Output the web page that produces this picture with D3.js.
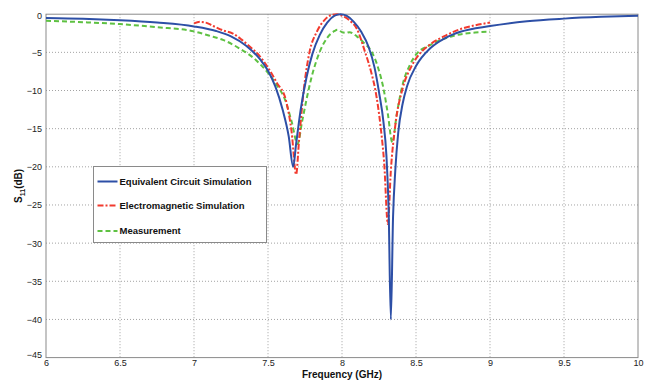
<!DOCTYPE html>
<html>
<head>
<meta charset="utf-8">
<script src="https://cdn.jsdelivr.net/npm/d3@7"></script>
<style>
  html, body { margin: 0; padding: 0; background: #fff; }
  svg { display: block; font-family: "Liberation Sans", Arial, sans-serif; }
</style>
</head>
<body>
<svg id="chart" width="651" height="381"></svg>
<script>
// Return loss S11 (dB) versus frequency (GHz)
const xTicks = [6, 6.5, 7, 7.5, 8, 8.5, 9, 9.5, 10];
const yTicks = [0, -5, -10, -15, -20, -25, -30, -35, -40, -45];

const circuitFreq = [6.0, 6.25, 6.5, 6.75, 7.0, 7.15, 7.25, 7.35, 7.45, 7.5, 7.55, 7.6, 7.64, 7.67, 7.69, 7.72, 7.76, 7.8, 7.85, 7.9, 7.95, 7.99, 8.03, 8.08, 8.13, 8.18, 8.22, 8.25, 8.28, 8.3, 8.315, 8.33, 8.345, 8.36, 8.38, 8.41, 8.44, 8.5, 8.6, 8.7, 8.8, 9.0, 9.25, 9.5, 9.75, 10.0];
const circuitS11 = [-0.5, -0.6, -0.8, -1.1, -1.6, -2.2, -2.9, -4.1, -6.0, -7.4, -9.5, -12.6, -16.0, -20.0, -17.0, -12.6, -8.3, -5.2, -2.7, -1.1, -0.2, 0, -0.2, -1.0, -2.3, -4.3, -7.0, -10.2, -14.1, -18.5, -25.5, -40.0, -26.5, -20.5, -15.5, -11.7, -9.4, -6.8, -4.4, -3.1, -2.3, -1.55, -0.92, -0.58, -0.35, -0.2];

const emFreq = [7.0, 7.04, 7.08, 7.13, 7.2, 7.26, 7.32, 7.38, 7.44, 7.5, 7.56, 7.62, 7.66, 7.69, 7.71, 7.74, 7.78, 7.83, 7.88, 7.93, 7.965, 8.0, 8.05, 8.1, 8.155, 8.2, 8.225, 8.26, 8.285, 8.31, 8.33, 8.36, 8.41, 8.47, 8.52, 8.6, 8.7, 8.8, 8.9, 9.0];
const emS11 = [-1.2, -1.0, -1.1, -1.55, -2.15, -2.5, -3.3, -4.3, -5.4, -7.0, -9.0, -11.2, -15.5, -21.0, -16.5, -10.2, -5.0, -2.3, -0.8, -0.1, 0, -0.2, -0.8, -1.9, -4.9, -7.8, -9.9, -14.6, -19.5, -27.5, -20.5, -14.6, -9.7, -6.8, -5.3, -3.9, -2.8, -1.95, -1.45, -1.1];

const measFreq = [6.0, 6.25, 6.5, 6.75, 7.0, 7.1, 7.2, 7.3, 7.4, 7.5, 7.56, 7.615, 7.66, 7.7, 7.73, 7.76, 7.79, 7.85, 7.9, 7.95, 7.97, 8.0, 8.03, 8.05, 8.1, 8.15, 8.2, 8.25, 8.28, 8.31, 8.34, 8.37, 8.41, 8.46, 8.5, 8.6, 8.75, 8.9, 9.0];
const measS11 = [-0.85, -1.05, -1.3, -1.7, -2.25, -2.8, -3.4, -4.4, -5.7, -7.7, -9.3, -11.2, -14.1, -17.0, -14.1, -11.2, -8.6, -4.9, -3.1, -2.2, -2.05, -2.35, -2.45, -2.35, -2.9, -3.8, -4.9, -7.4, -9.7, -13.1, -16.8, -13.1, -9.2, -6.6, -5.3, -4.0, -2.85, -2.4, -2.3];

const seriesNames = ["Equivalent Circuit Simulation", "Electromagnetic Simulation", "Measurement"];

const svg = d3.select("#chart");
const margin = { left: 46, right: 13, top: 14.2, bottom: 23.4 };
const W = 651, H = 381;

const x = d3.scaleLinear().domain([6, 10]).range([margin.left, W - margin.right]);
const y = d3.scaleLinear().domain([-45, 0]).range([H - margin.bottom, margin.top]);

const gridColor = "#8c8c8c";

// dotted grid
svg.append("g").selectAll("line").data(xTicks.slice(1, -1)).join("line")
  .attr("x1", d => x(d)).attr("x2", d => x(d))
  .attr("y1", y(0)).attr("y2", y(-45))
  .attr("stroke", gridColor).attr("stroke-width", 0.8).attr("stroke-dasharray", "1,2");
svg.append("g").selectAll("line").data(yTicks.slice(1, -1)).join("line")
  .attr("x1", x(6)).attr("x2", x(10))
  .attr("y1", d => y(d)).attr("y2", d => y(d))
  .attr("stroke", gridColor).attr("stroke-width", 0.8).attr("stroke-dasharray", "1,2");

// axes
const xAxis = d3.axisBottom(x).tickValues(xTicks).tickSize(0).tickPadding(2).tickFormat(d3.format("~g"));
const yAxis = d3.axisLeft(y).tickValues(yTicks).tickSize(0).tickPadding(4).tickFormat(d3.format("~g"));

const gx = svg.append("g").attr("transform", `translate(0,${y(-45)})`).call(xAxis);
const gy = svg.append("g").attr("transform", `translate(${x(6)},0)`).call(yAxis);
[gx, gy].forEach(g => {
  g.select(".domain").remove();
  g.selectAll("text").attr("font-size", 9).attr("fill", "#222");
});
gy.selectAll(".tick text").filter(d => d === -45).attr("dy", "-0.05em");
gy.selectAll(".tick text").filter(d => d === 0).attr("dy", "0.5em");

// frame
svg.append("rect")
  .attr("x", x(6)).attr("y", y(0))
  .attr("width", x(10) - x(6)).attr("height", y(-45) - y(0))
  .attr("fill", "none").attr("stroke", "#8a8a8a").attr("stroke-width", 1);

// curves
const line = d3.line().x(d => x(d[0])).y(d => y(d[1])).curve(d3.curveMonotoneX);
const zip = (a, b) => a.map((v, i) => [v, b[i]]);

const styles = [
  { color: "#2d4fa6", dash: null, width: 2 },
  { color: "#f23a2e", dash: "6,2,2,2", width: 2 },
  { color: "#5ec142", dash: "5,3", width: 2 }
];
const plot = svg.append("g");
plot.append("path").datum(zip(measFreq, measS11)).attr("d", line)
  .attr("fill", "none").attr("stroke", styles[2].color).attr("stroke-width", styles[2].width)
  .attr("stroke-dasharray", styles[2].dash);
plot.append("path").datum(zip(emFreq, emS11)).attr("d", line)
  .attr("fill", "none").attr("stroke", styles[1].color).attr("stroke-width", styles[1].width)
  .attr("stroke-dasharray", styles[1].dash);
plot.append("path").datum(zip(circuitFreq, circuitS11)).attr("d", line)
  .attr("fill", "none").attr("stroke", styles[0].color).attr("stroke-width", styles[0].width);

// legend
const lg = svg.append("g").attr("transform", "translate(93.5,166.5)");
lg.append("rect").attr("width", 173).attr("height", 76)
  .attr("fill", "#fff").attr("stroke", "#8a8a8a").attr("stroke-width", 1);
const rows = [15, 39, 64.5];
seriesNames.forEach((name, i) => {
  lg.append("line").attr("x1", 4).attr("x2", 24).attr("y1", rows[i]).attr("y2", rows[i])
    .attr("stroke", styles[i].color).attr("stroke-width", styles[i].width)
    .attr("stroke-dasharray", styles[i].dash);
  lg.append("text").attr("x", 26).attr("y", rows[i]).attr("dy", "0.35em")
    .attr("font-size", 9.5).attr("font-weight", "bold").attr("fill", "#111").text(name);
});

// axis titles
svg.append("text").attr("x", x(8)).attr("y", 378)
  .attr("text-anchor", "middle").attr("font-size", 10).attr("font-weight", "bold").attr("fill", "#111")
  .text("Frequency (GHz)");
const yl = svg.append("text")
  .attr("transform", `translate(22,${(y(0) + y(-45)) / 2}) rotate(-90)`)
  .attr("text-anchor", "middle").attr("font-size", 10).attr("font-weight", "bold").attr("fill", "#111");
yl.append("tspan").text("S");
yl.append("tspan").attr("font-size", 7).attr("dy", 3).text("11");
yl.append("tspan").attr("dy", -3).text("(dB)");
</script>
</body>
</html>
